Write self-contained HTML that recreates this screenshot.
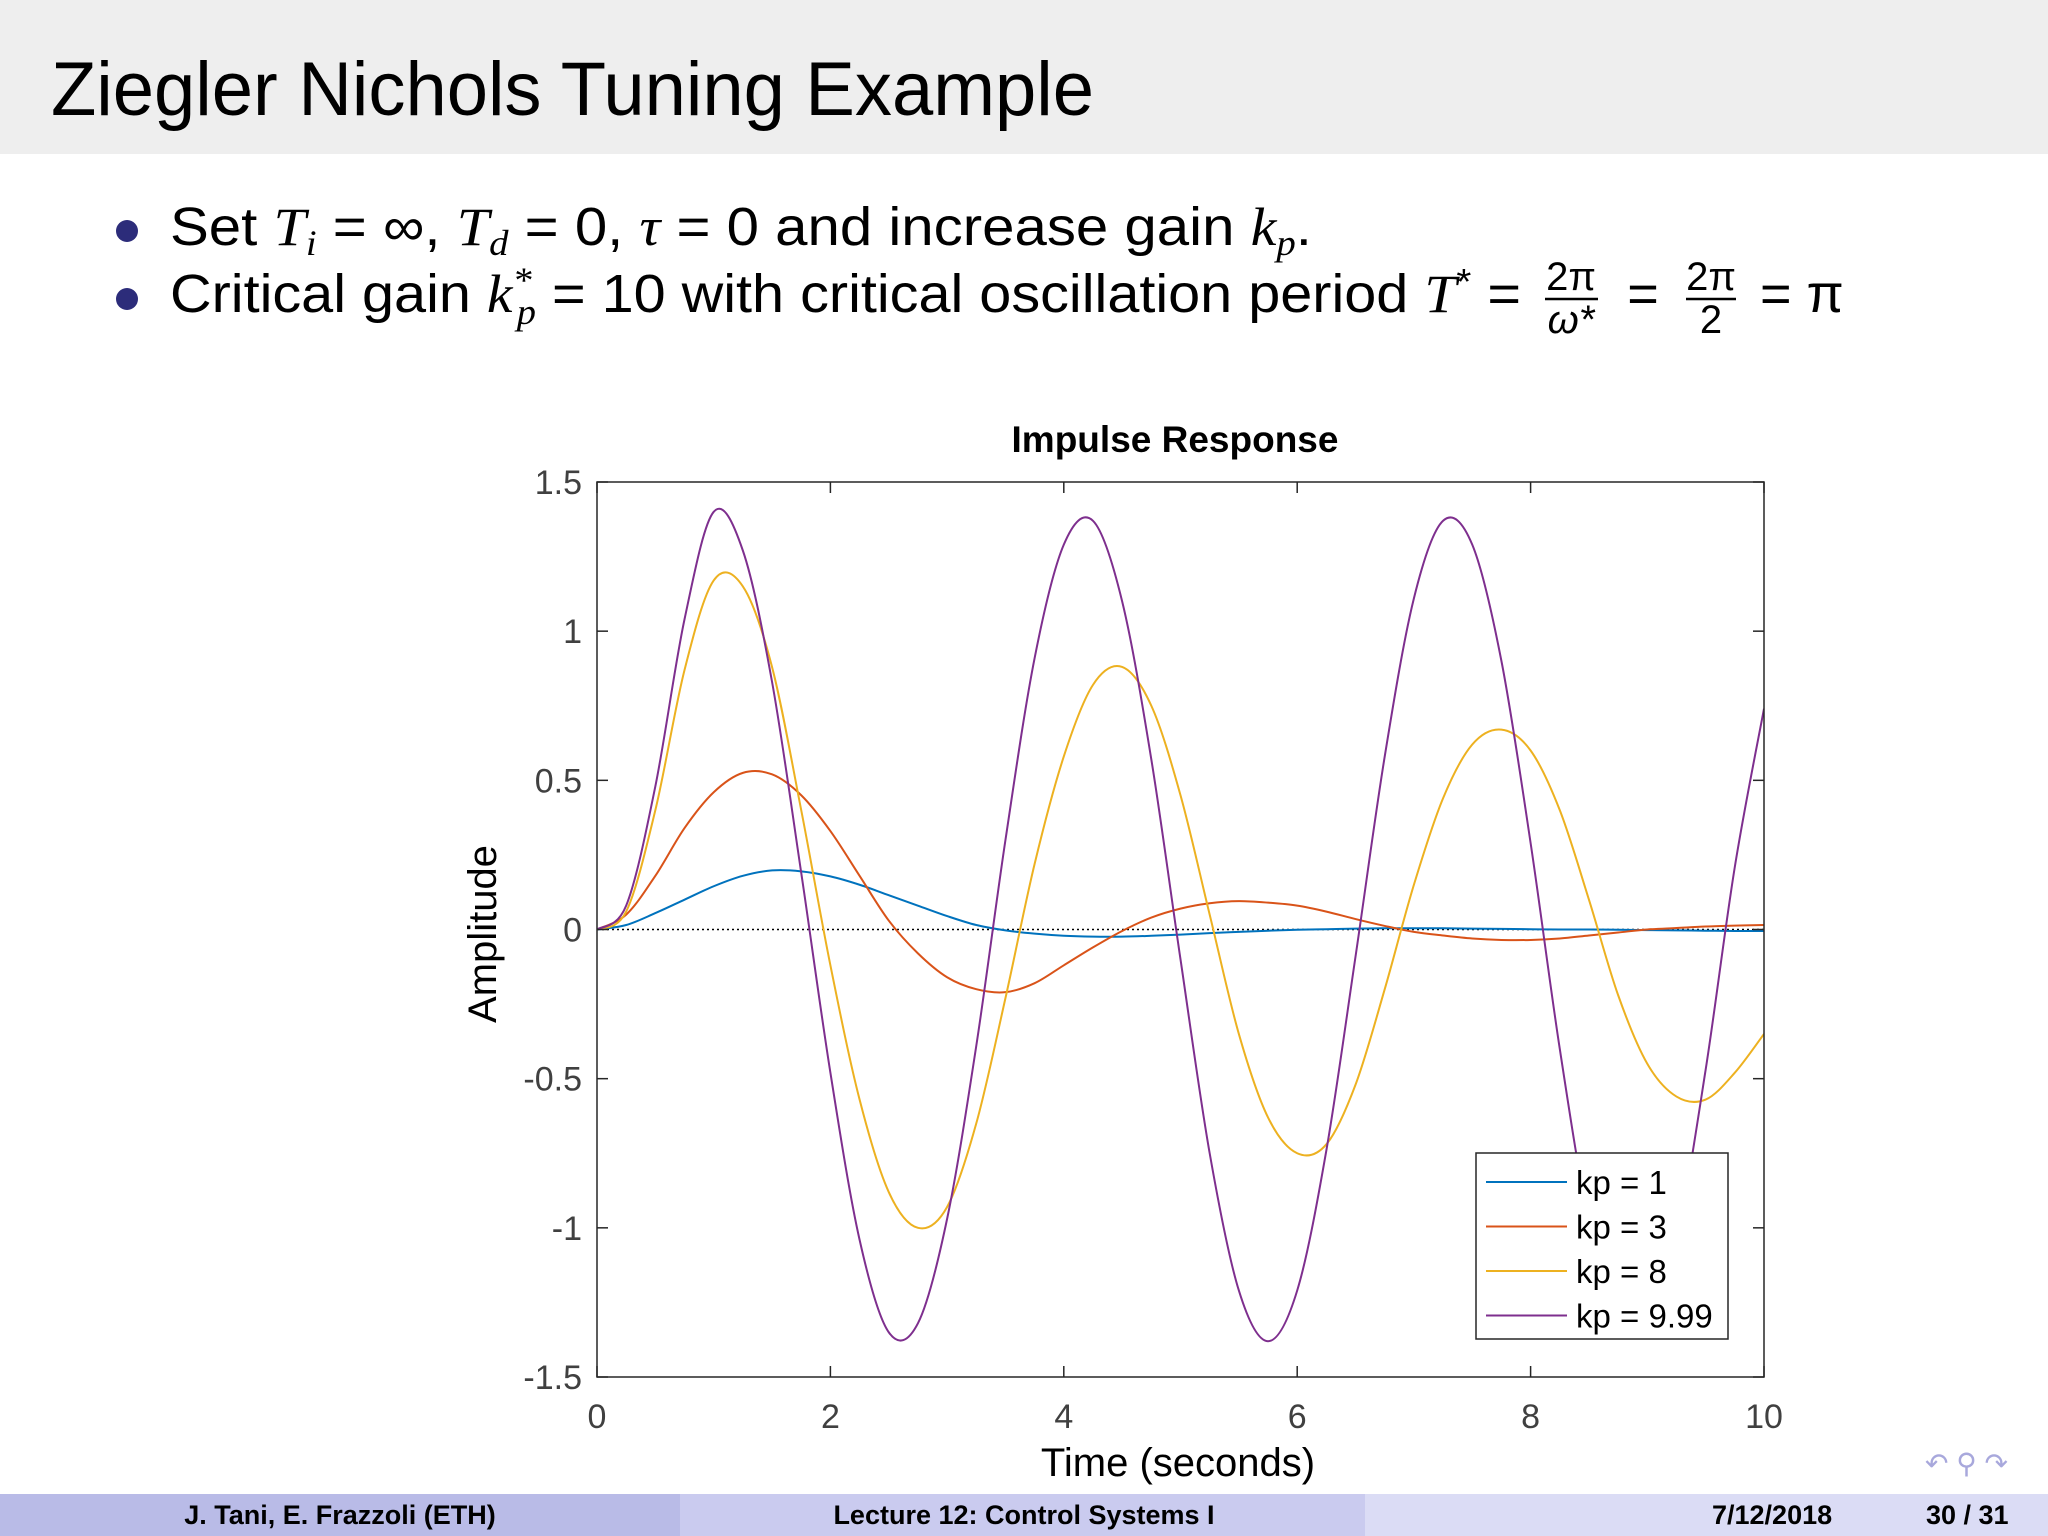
<!DOCTYPE html>
<html><head><meta charset="utf-8"><style>
html,body{margin:0;padding:0;background:#fff;}
svg{display:block;}
text{font-family:"Liberation Sans",sans-serif;}
</style></head><body>
<svg id="s" width="2048" height="1536" viewBox="0 0 2048 1536" xmlns="http://www.w3.org/2000/svg">
<rect x="0" y="0" width="2048" height="154" fill="#eeeeee"/>
<text x="51" y="115" font-size="76" fill="#000" textLength="1043" lengthAdjust="spacingAndGlyphs">Ziegler Nichols Tuning Example</text>
<g>
<circle cx="127" cy="231" r="11" fill="#2c2c7a"/>
<circle cx="127" cy="299" r="11" fill="#2c2c7a"/>
<text x="170" y="245" font-size="54" textLength="1142" lengthAdjust="spacingAndGlyphs">Set <tspan font-family="Liberation Serif" font-style="italic">T<tspan font-size="36" dy="10">i</tspan></tspan><tspan dy="-10"> = ∞, </tspan><tspan font-family="Liberation Serif" font-style="italic">T<tspan font-size="36" dy="10">d</tspan></tspan><tspan dy="-10"> = 0, </tspan><tspan font-family="Liberation Serif" font-style="italic">τ</tspan> = 0 and increase gain <tspan font-family="Liberation Serif" font-style="italic">k<tspan font-size="36" dy="10">p</tspan></tspan><tspan dy="-10">.</tspan></text>
<text x="170" y="312" font-size="54" textLength="1351" lengthAdjust="spacingAndGlyphs">Critical gain <tspan font-family="Liberation Serif" font-style="italic">k<tspan font-size="36" dy="-20">*</tspan><tspan font-size="36" dx="-14" dy="32">p</tspan></tspan><tspan dy="-12"> = 10 with critical oscillation period </tspan><tspan font-family="Liberation Serif" font-style="italic">T</tspan><tspan font-size="36" dy="-18">*</tspan><tspan dy="18"> =</tspan></text>
<text x="1571" y="290" font-size="40" text-anchor="middle">2π</text>
<line x1="1545" y1="299" x2="1598" y2="299" stroke="#000" stroke-width="2.5"/>
<text x="1571" y="333" font-size="40" text-anchor="middle" font-family="Liberation Serif" font-style="italic">ω*</text>
<text x="1643" y="312" font-size="54" text-anchor="middle">=</text>
<text x="1711" y="290" font-size="40" text-anchor="middle">2π</text>
<line x1="1686" y1="299" x2="1736" y2="299" stroke="#000" stroke-width="2.5"/>
<text x="1711" y="333" font-size="40" text-anchor="middle">2</text>
<text x="1760" y="312" font-size="54">= π</text>
</g>
<g id="chart"></g>
<g>
<rect x="0" y="1494" width="681" height="42" fill="#b9bbe7"/>
<rect x="680" y="1494" width="686" height="42" fill="#cacbef"/>
<rect x="1365" y="1494" width="683" height="42" fill="#dbdcf5"/>
<text x="340" y="1524" font-size="27" font-weight="bold" text-anchor="middle">J. Tani, E. Frazzoli  (ETH)</text>
<text x="1024" y="1524" font-size="27" font-weight="bold" text-anchor="middle">Lecture 12: Control Systems I</text>
<text x="1712" y="1524" font-size="27" font-weight="bold">7/12/2018</text>
<text x="1926" y="1524" font-size="27" font-weight="bold">30 / 31</text>
</g>
<text x="1925" y="1473" font-size="28" fill="#a8a8dc">↶ ⚲ ↷</text>
</svg>
<script>
const tVals=[0,0.25,0.5,0.75,1,1.25,1.5,1.75,2,2.25,2.5,2.75,3,3.25,3.5,3.75,4,4.25,4.5,4.75,5,5.25,5.5,5.75,6,6.25,6.5,6.75,7,7.25,7.5,7.75,8,8.25,8.5,8.75,9,9.25,9.5,9.75,10];
const kp1=[0,0.015,0.055,0.1,0.145,0.18,0.198,0.195,0.178,0.15,0.115,0.08,0.045,0.015,-0.003,-0.014,-0.021,-0.024,-0.024,-0.021,-0.017,-0.012,-0.008,-0.004,-0.001,0.001,0.003,0.004,0.004,0.004,0.003,0.002,0.001,0,0,-0.001,-0.002,-0.003,-0.004,-0.005,-0.005];
const kp3=[0,0.05,0.18,0.34,0.46,0.525,0.52,0.45,0.33,0.18,0.03,-0.08,-0.16,-0.2,-0.21,-0.18,-0.12,-0.06,-0.005,0.04,0.07,0.088,0.095,0.09,0.08,0.06,0.035,0.012,-0.008,-0.02,-0.03,-0.035,-0.035,-0.03,-0.02,-0.01,0,0.005,0.01,0.013,0.015];
const kp8=[0,0.06,0.4,0.87,1.17,1.15,0.88,0.4,-0.12,-0.57,-0.88,-1.0,-0.93,-0.65,-0.23,0.22,0.58,0.82,0.88,0.75,0.45,0.05,-0.35,-0.63,-0.75,-0.72,-0.52,-0.2,0.15,0.44,0.62,0.67,0.6,0.4,0.1,-0.22,-0.45,-0.56,-0.57,-0.48,-0.35];
const kp999=[0,0.08,0.48,1.04,1.40,1.27,0.83,0.19,-0.48,-1.04,-1.35,-1.32,-0.97,-0.39,0.30,0.91,1.29,1.37,1.10,0.57,-0.10,-0.75,-1.21,-1.38,-1.21,-0.74,-0.09,0.58,1.11,1.37,1.29,0.90,0.29,-0.40,-0.98,-1.30,-1.32,-1.04,-0.47,0.21,0.74];
const seriesLabels=["kp = 1","kp = 3","kp = 8","kp = 9.99"];
const xTicks=[0,2,4,6,8,10];
const yTicks=[-1.5,-1,-0.5,0,0.5,1,1.5];
const yTickLabels=["-1.5","-1","-0.5","0","0.5","1","1.5"];

const NS="http://www.w3.org/2000/svg";
const g=document.getElementById('chart');
const X0=597,X1=1764,Y0=482,Y1=1377;
const xs=t=>X0+(t-0)/(10-0)*(X1-X0);
const ys=v=>Y1-(v+1.5)/3*(Y1-Y0);
function mk(tag,attrs,parent){const e=document.createElementNS(NS,tag);for(const k in attrs)e.setAttribute(k,attrs[k]);(parent||g).appendChild(e);return e;}

let title=mk('text',{x:1175,y:452,'font-size':37,'font-weight':'bold','text-anchor':'middle',fill:'#000'});
title.textContent='Impulse Response';



let bg=mk('rect',{x:X0,y:Y0,width:X1-X0,height:Y1-Y0,fill:'#fff'});



const defs=mk('defs',{});
const cp=mk('clipPath',{id:'clip'},defs);
mk('rect',{x:X0,y:Y0,width:X1-X0,height:Y1-Y0},cp);

let zl=mk('line',{x1:X0,y1:ys(0),x2:X1,y2:ys(0),stroke:'#000','stroke-width':1.5,'stroke-dasharray':'2,3'});



function pathFor(vals){
  const p=tVals.map((t,i)=>[xs(t),ys(vals[i])]);
  let d='M'+p[0][0]+','+p[0][1];
  for(let i=0;i<p.length-1;i++){
    const a=p[Math.max(0,i-1)],b=p[i],c=p[i+1],e=p[Math.min(p.length-1,i+2)];
    const c1=[b[0]+(c[0]-a[0])/6,b[1]+(c[1]-a[1])/6];
    const c2=[c[0]-(e[0]-b[0])/6,c[1]-(e[1]-b[1])/6];
    d+=' C'+c1[0]+','+c1[1]+' '+c2[0]+','+c2[1]+' '+c[0]+','+c[1];
  }
  return d;
}
const allSeries=[kp1,kp3,kp8,kp999];
const colors=['#0072BD','#D95319','#EDB120','#7E2F8E'];
const names=['series-kp-1','series-kp-3','series-kp-8','series-kp-9-99'];
allSeries.forEach((s,i)=>{
  const p=mk('path',{d:pathFor(s),fill:'none',stroke:colors[i],'stroke-width':2,'clip-path':'url(#clip)'});
  
  
});

let frame=mk('rect',{x:X0,y:Y0,width:X1-X0,height:Y1-Y0,fill:'none',stroke:'#262626','stroke-width':1.5});



xTicks.forEach(t=>{
  const x=xs(t);
  mk('line',{x1:x,y1:Y1,x2:x,y2:Y1-11,stroke:'#262626','stroke-width':1.5});
  mk('line',{x1:x,y1:Y0,x2:x,y2:Y0+11,stroke:'#262626','stroke-width':1.5});
  const tx=mk('text',{x:x,y:1428,'font-size':34,'text-anchor':'middle',fill:'#404040'});
  tx.textContent=String(t);
  
  
});
yTicks.forEach((v,i)=>{
  const y=ys(v);
  mk('line',{x1:X0,y1:y,x2:X0+11,y2:y,stroke:'#262626','stroke-width':1.5});
  mk('line',{x1:X1,y1:y,x2:X1-11,y2:y,stroke:'#262626','stroke-width':1.5});
  const tx=mk('text',{x:582,y:y+12,'font-size':34,'text-anchor':'end',fill:'#404040'});
  tx.textContent=yTickLabels[i];
  
  
});

let xl=mk('text',{x:1178,y:1476,'font-size':40,'text-anchor':'middle',fill:'#000'});
xl.textContent='Time (seconds)';


let yl=mk('text',{x:0,y:0,'font-size':40,'text-anchor':'middle',fill:'#000',transform:'translate(496,934) rotate(-90)'});
yl.textContent='Amplitude';



const lg=mk('g',{});


mk('rect',{x:1476,y:1153,width:252,height:186,fill:'#fff',stroke:'#262626','stroke-width':1.5},lg);
seriesLabels.forEach((lab,i)=>{
  const y=1182+i*44.5;
  const e=mk('g',{},lg);
  
  
  mk('line',{x1:1486,y1:y,x2:1567,y2:y,stroke:colors[i],'stroke-width':2},e);
  const tx=mk('text',{x:1576,y:y+12,'font-size':33,fill:'#000'},e);
  tx.textContent=lab;
});
</script>
</body></html>
